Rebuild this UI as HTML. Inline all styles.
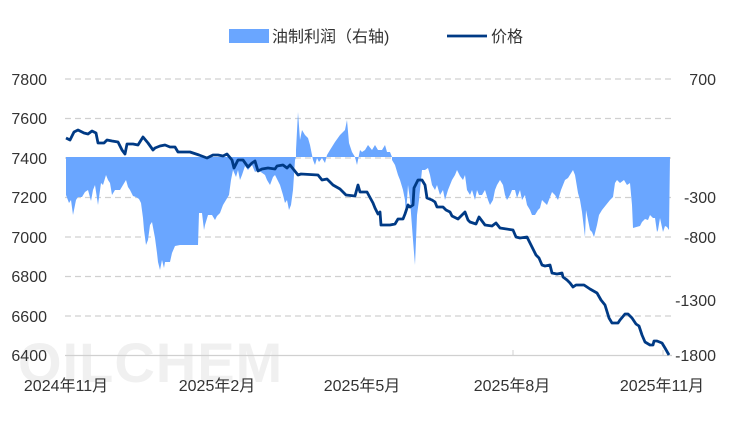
<!DOCTYPE html>
<html><head><meta charset="utf-8"><style>
html,body{margin:0;padding:0;background:#fff;}
svg{display:block;font-family:"Liberation Sans","Noto Sans CJK SC",sans-serif;}
</style></head><body>
<svg width="746" height="422" viewBox="0 0 746 422">
<rect width="746" height="422" fill="#fff"/>
<text x="18" y="382" font-size="56" font-weight="bold" fill="#f0f0f0" letter-spacing="1">OILCHEM</text>
<g stroke="#d0d0d0" stroke-width="1.3" stroke-dasharray="6,4">
<line x1="65" y1="79" x2="672" y2="79"/><line x1="65" y1="118.5" x2="672" y2="118.5"/>
<line x1="65" y1="158" x2="672" y2="158"/><line x1="65" y1="197.5" x2="672" y2="197.5"/>
<line x1="65" y1="237" x2="672" y2="237"/><line x1="65" y1="276.5" x2="672" y2="276.5"/>
<line x1="65" y1="316" x2="672" y2="316"/>
</g>
<line x1="65" y1="355.5" x2="672" y2="355.5" stroke="#d0d0d0" stroke-width="1.3"/>
<g stroke="#d0d0d0" stroke-width="1"><line x1="513" y1="350" x2="513" y2="356"/><line x1="663" y1="350" x2="663" y2="356"/></g>
<path fill="#6aa6ff" d="M66,157 L66,195 69,203 71,200 73,215 76,200 78,197 82,197 85,192 88,190 91,201 93,190 95,185 98,205 101,183 103,185 106,175 108,180 110,183 112,195 115,190 120,190 123,185 126,180 128,187 130,190 133,196 136,197 139,199 141,203 143,218 144,230 146,245 148,240 150,225 152,222 155,238 157,253 158,262 160,270 162,260 164,268 165,262 170,262 172,253 175,246 180,245 185,245 195,245 198,245 199,213 202,213 204,230 205,225 208,215 212,215 215,220 217,216 220,213 223,205 226,200 229,195 231,180 233,170 236,177 238,170 240,180 242,175 245,166 248,170 252,165 255,172 258,170 265,175 267,180 270,185 273,177 275,175 280,185 283,195 285,203 287,200 289,210 291,205 293,190 295,160 296,157 296,150 298,112 300,140 302,130 305,135 308,138 310,145 313,160 315,165 317,158 319,162 322,158 325,163 327,155 330,150 335,142 340,135 345,130 347,120 349,143 352,152 355,157 357,165 360,150 362,152 365,150 368,145 372,150 375,145 378,150 382,150 385,145 387,152 390,152 392,157 392,160 395,165 398,175 400,180 403,190 405,200 406,215 408,185 410,200 413,240 415,265 417,215 419,200 420,190 422,170 425,170 428,168 430,175 432,185 435,190 437,185 440,195 443,190 445,200 448,190 452,180 455,175 457,170 460,176 463,180 465,175 467,190 470,195 472,190 475,200 477,190 479,195 482,195 485,190 488,200 490,205 493,200 495,190 497,185 500,180 503,185 505,195 507,200 510,195 512,190 515,190 517,198 520,190 522,200 525,195 527,205 530,210 532,215 535,215 538,210 540,208 542,200 545,203 547,205 552,192 555,195 558,200 561,190 565,180 568,178 573,170 575,175 578,193 580,200 582,212 585,237 586,210 588,220 590,230 592,232 594,237 597,225 599,215 602,210 606,205 610,200 613,197 615,183 617,180 620,183 624,180 627,185 630,183 632,205 633,228 640,226 642,222 645,219 648,220 650,215 653,218 655,218 657,232 658,230 660,218 663,232 665,226 667,227 669,230 670,157 Z"/>
<polyline fill="none" stroke="#003a85" stroke-width="2.8" stroke-linejoin="round" points="66,138 70,140 74,132 78,130 84,133 88,134 92,131 96,133 98,143 104,143 107,140 112,141 118,142 122,150 125,154 127,144 133,144 138,145 143,137 148,143 153,150 155,148 160,146 165,145 170,147 175,147 178,152 190,152 199,155 207,158 213,155 218,155 223,156 227,154 232,160 234,168 238,160 243,160 248,167 252,163 255,161 258,171 262,169 268,168 275,169 277,166 283,165 287,168 290,165 298,175 301,174 318,175 322,180 327,179 333,185 340,189 346,195 355,196 358,185 360,192 367,192 373,203 375,208 378,214 380,212 381,225 390,225 395,224 398,219 403,219 405,214 408,205 410,207 413,205 414,188 418,180 422,180 425,185 427,198 432,200 435,202 437,207 443,207 446,210 450,212 452,216 458,219 461,216 465,212 468,220 470,222 476,224 479,217 485,225 492,226 496,223 500,228 513,230 516,237 520,238 527,237 531,245 536,255 539,258 542,265 545,266 550,265 552,273 557,274 562,273 563,277 567,280 570,283 573,287 576,285 584,285 590,289 597,293 601,300 605,305 609,318 612,323 618,323 620,320 625,314 628,314 632,318 636,324 639,326 642,335 645,342 650,345 653,345 654,341 657,341 662,343 665,348 669,355"/>
<g font-size="16" fill="#333">
<g text-anchor="end"><text x="47" y="85">7800</text><text x="47" y="124">7600</text><text x="47" y="164">7400</text><text x="47" y="203">7200</text><text x="47" y="243">7000</text><text x="47" y="282">6800</text><text x="47" y="322">6600</text><text x="47" y="361">6400</text></g>
<g text-anchor="end"><text x="716" y="85">700</text><text x="716" y="203">-300</text><text x="716" y="243">-800</text><text x="716" y="306">-1300</text><text x="716" y="361">-1800</text></g>
<g text-anchor="middle"><text x="66" y="391">2024年11月</text><text x="217" y="391">2025年2月</text><text x="362" y="391">2025年5月</text><text x="512" y="391">2025年8月</text><text x="662" y="391">2025年11月</text></g>
<rect x="229" y="29" width="40" height="14" fill="#6aa6ff"/>
<text x="272" y="42">油制利润（右轴)</text>
<line x1="447" y1="36" x2="487" y2="36" stroke="#003a85" stroke-width="2.8"/>
<text x="491" y="42">价格</text>
</g>
</svg>
</body></html>
